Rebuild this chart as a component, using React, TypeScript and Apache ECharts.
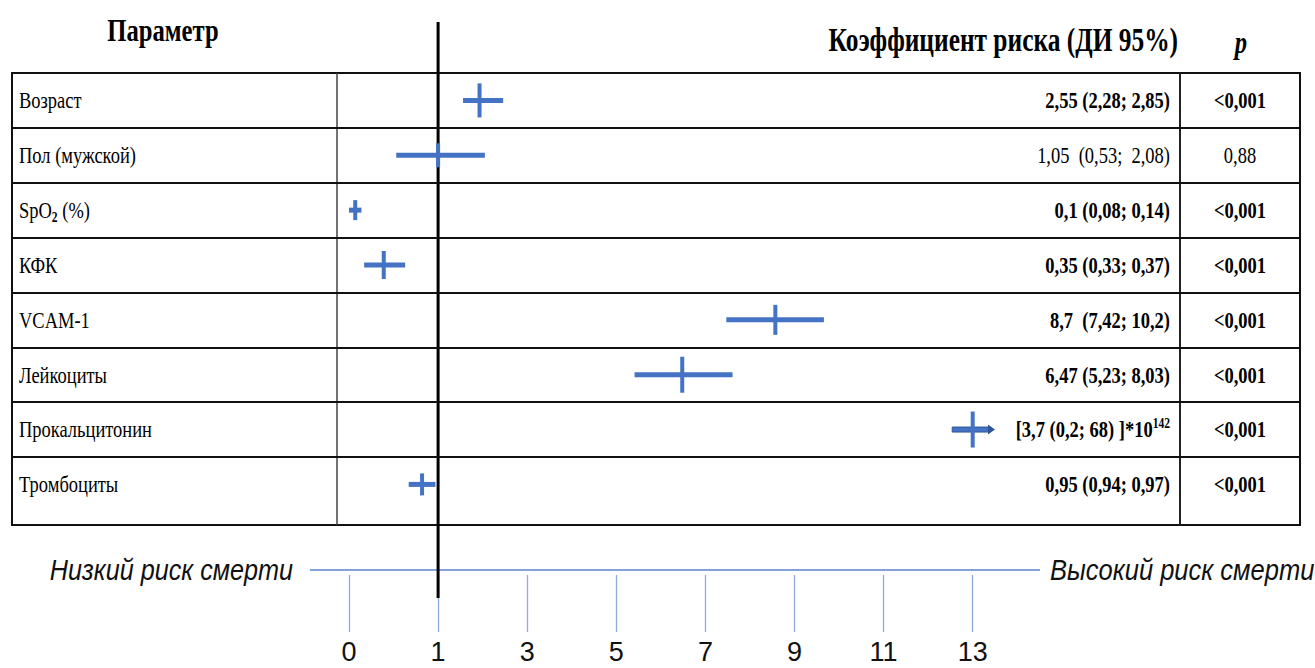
import React, { useEffect, useRef } from "react";
import * as echarts from "echarts";

// ---------------- data ----------------
const parameters = [
  "Возраст",
  "Пол (мужской)",
  "SpO2 (%)",
  "КФК",
  "VCAM-1",
  "Лейкоциты",
  "Прокальцитонин",
  "Тромбоциты",
];
const hazardText = [
  "2,55 (2,28; 2,85)",
  "1,05  (0,53;  2,08)",
  "0,1 (0,08; 0,14)",
  "0,35 (0,33; 0,37)",
  "8,7  (7,42; 10,2)",
  "6,47 (5,23; 8,03)",
  "[3,7 (0,2; 68) ]*10^142",
  "0,95 (0,94; 0,97)",
];
const pValues = ["<0,001", "0,88", "<0,001", "<0,001", "<0,001", "<0,001", "<0,001", "<0,001"];
const significant = [true, false, true, true, true, true, true, true];

// marks as drawn
const markCenter = [1.93, 1.0, 0.07, 0.39, 8.57, 6.48, 13.0, 0.82];
const markLow = [1.56, 0.53, 0.0, 0.17, 7.47, 5.41, 12.54, 0.67];
const markHigh = [2.46, 2.05, 0.14, 0.63, 9.66, 7.61, 13.5, 0.97];
const openEnded = [false, false, false, false, false, false, true, false];

const axisTickValues = [0, 1, 3, 5, 7, 9, 11, 13];
const referenceValue = 1;

const headerParam = "Параметр";
const headerHR = "Коэффициент риска (ДИ 95%)";
const headerP = "p";
const lowRiskLabel = "Низкий риск смерти";
const highRiskLabel = "Высокий риск смерти";

// ---------------- layout / style ----------------
const W = 1315;
const H = 668;
const T_LEFT = 12;
const T_RIGHT = 1300;
const T_TOP = 73;
const T_BOTTOM = 525;
const COL1 = 337;
const COL2 = 1180;
const SLOT0_PX = 349;
const SLOT_PX = 89.1;
const ROW_SPAN = 8.24; // last row is taller than the others
const SERIF = "'Liberation Serif', 'Times New Roman', serif";
const SANS = "'Liberation Sans', Arial, sans-serif";
const NARROW = "'Liberation Sans Narrow', 'Liberation Sans', Arial, sans-serif";
const SX = 0.77; // horizontal compression of the source picture
const BLUE = "#4472C4";
const DARK_BLUE = "#2F5597";
const barHalf = [17, 12, 10, 14, 15, 18, 18, 11];

function hrToSlot(v: number): number {
  const t = axisTickValues;
  for (let k = 0; k < t.length - 1; k++) {
    if (v <= t[k + 1] || k === t.length - 2) {
      return k + (v - t[k]) / (t[k + 1] - t[k]);
    }
  }
  return 0;
}

const X_MIN = -(SLOT0_PX - T_LEFT) / SLOT_PX;
const X_MAX = (T_RIGHT - SLOT0_PX) / SLOT_PX;
const tickSlots = axisTickValues.map((_, i) => i);

const paramRich = (s: string) => "{n|" + s.replace("O2", "O}{sub|2}{n|") + "}";
const hrRich = (s: string) => "{b|" + s.replace(/\^(\d+)/, "}{sup|$1}{b|") + "}";

export default function App() {
  const ref = useRef<HTMLDivElement>(null);

  useEffect(() => {
    if (!ref.current) return;
    const chart = echarts.init(ref.current, undefined, { renderer: "svg" });

    const rowData = parameters.map((_, i) => [i]);
    const markData = parameters.map((_, i) => [
      i,
      hrToSlot(markCenter[i]),
      hrToSlot(markLow[i]),
      hrToSlot(markHigh[i]),
    ]);

    const option: any = {
      animation: false,
      backgroundColor: "#ffffff",
      grid: [
        {
          left: T_LEFT,
          top: T_TOP,
          width: T_RIGHT - T_LEFT,
          height: T_BOTTOM - T_TOP,
          show: true,
          borderColor: "#111",
          borderWidth: 2,
          backgroundColor: "transparent",
        },
        { left: T_LEFT, top: 574, width: T_RIGHT - T_LEFT, height: 1, show: false },
      ],
      xAxis: [
        { gridIndex: 0, type: "value", min: X_MIN, max: X_MAX, show: false },
        {
          gridIndex: 1,
          type: "value",
          min: X_MIN,
          max: X_MAX,
          position: "bottom",
          axisLine: { show: false },
          splitLine: { show: false },
          axisTick: {
            show: true,
            customValues: tickSlots,
            length: 57,
            lineStyle: { color: "#8FAADC", width: 1.3 },
          },
          axisLabel: {
            customValues: tickSlots,
            margin: 63,
            fontSize: 27,
            fontFamily: NARROW,
            color: "#111",
            formatter: (v: number) => String(axisTickValues[Math.round(v)]),
          },
        },
      ],
      yAxis: [
        { gridIndex: 0, type: "value", min: 0, max: ROW_SPAN, inverse: true, show: false },
        { gridIndex: 1, type: "value", show: false },
      ],
      graphic: [
        { type: "line", shape: { x1: COL1, y1: T_TOP, x2: COL1, y2: T_BOTTOM }, style: { stroke: "#444", lineWidth: 1.5 } },
        { type: "line", shape: { x1: COL2, y1: T_TOP, x2: COL2, y2: T_BOTTOM }, style: { stroke: "#222", lineWidth: 2 } },
        {
          type: "text", x: 163, y: 30, scaleX: SX,
          style: { text: headerParam, fontFamily: SERIF, fontSize: 32, fontWeight: "bold", fill: "#000", align: "center", verticalAlign: "middle" },
        },
        {
          type: "text", x: 1178, y: 40, scaleX: SX,
          style: { text: headerHR, fontFamily: SERIF, fontSize: 33, fontWeight: "bold", fill: "#000", align: "right", verticalAlign: "middle" },
        },
        {
          type: "text", x: 1241, y: 42, scaleX: SX,
          style: { text: headerP, fontFamily: SERIF, fontSize: 32, fontWeight: "bold", fontStyle: "italic", fill: "#000", align: "center", verticalAlign: "middle" },
        },
        { type: "line", shape: { x1: 310, y1: 570, x2: 1040, y2: 570 }, style: { stroke: "#5B83CF", lineWidth: 1.3 } },
        {
          type: "text", x: 293, y: 570, scaleX: 0.84,
          style: { text: lowRiskLabel, fontFamily: SANS, fontSize: 30, fontStyle: "italic", fill: "#111", align: "right", verticalAlign: "middle" },
        },
        {
          type: "text", x: 1050, y: 570, scaleX: 0.85,
          style: { text: highRiskLabel, fontFamily: SANS, fontSize: 30, fontStyle: "italic", fill: "#111", align: "left", verticalAlign: "middle" },
        },
      ],
      series: [
        {
          type: "custom",
          name: "table",
          xAxisIndex: 0,
          yAxisIndex: 0,
          clip: false,
          silent: true,
          data: rowData,
          renderItem: (params: any, api: any) => {
            const i = api.value(0);
            const y = api.coord([0, i + 0.5])[1];
            const weight = significant[i] ? "bold" : "normal";
            return {
              type: "group",
              children: [
                {
                  type: "text", x: 19, y, scaleX: SX,
                  style: {
                    text: paramRich(parameters[i]),
                    align: "left",
                    verticalAlign: "middle",
                    rich: {
                      n: { fontFamily: SERIF, fontSize: 24, fill: "#000", lineHeight: 28 },
                      sub: { fontFamily: SERIF, fontSize: 15, fontWeight: "bold", fill: "#000", lineHeight: 18, verticalAlign: "bottom" },
                    },
                  },
                },
                {
                  type: "text", x: 1170, y, scaleX: SX,
                  style: {
                    text: hrRich(hazardText[i]),
                    align: "right",
                    verticalAlign: "middle",
                    rich: {
                      b: { fontFamily: SERIF, fontSize: 24, fontWeight: weight, fill: "#000", lineHeight: 28 },
                      sup: { fontFamily: SERIF, fontSize: 15, fontWeight: weight, fill: "#000", lineHeight: 16, verticalAlign: "top" },
                    },
                  },
                },
                {
                  type: "text", x: 1240, y, scaleX: SX,
                  style: {
                    text: pValues[i],
                    fontFamily: SERIF, fontSize: 24, fontWeight: weight, fill: "#000",
                    align: "center", verticalAlign: "middle",
                  },
                },
              ],
            };
          },
          markLine: {
            silent: true,
            symbol: "none",
            label: { show: false },
            lineStyle: { color: "#111", width: 2, type: "solid" },
            data: [1, 2, 3, 4, 5, 6, 7].map((v) => ({ yAxis: v })),
          },
        },
        {
          type: "custom",
          name: "reference",
          xAxisIndex: 0,
          yAxisIndex: 0,
          clip: false,
          silent: true,
          z: 3,
          data: [[hrToSlot(referenceValue)]],
          renderItem: (params: any, api: any) => {
            const x = api.coord([api.value(0), 0])[0];
            return {
              type: "line",
              shape: { x1: x, y1: 22, x2: x, y2: 598 },
              style: { stroke: "#000", lineWidth: 3 },
            };
          },
        },
        {
          type: "custom",
          name: "marks",
          xAxisIndex: 0,
          yAxisIndex: 0,
          clip: false,
          silent: true,
          z: 4,
          data: markData,
          renderItem: (params: any, api: any) => {
            const i = api.value(0);
            const yv = i + 0.5;
            const c = api.coord([api.value(1), yv]);
            const lo = api.coord([api.value(2), yv]);
            const hi = api.coord([api.value(3), yv]);
            const y = c[1];
            const h = barHalf[i];
            const children: any[] = [];
            if (openEnded[i]) {
              children.push({
                type: "rect",
                shape: { x: lo[0], y: y - 2.5, width: hi[0] - lo[0] - 6, height: 5 },
                style: { fill: BLUE, stroke: DARK_BLUE, lineWidth: 1 },
              });
              children.push({
                type: "polygon",
                shape: { points: [[hi[0], y], [hi[0] - 7, y - 5], [hi[0] - 7, y + 5]] },
                style: { fill: DARK_BLUE },
              });
            } else {
              children.push({
                type: "line",
                shape: { x1: lo[0], y1: y, x2: hi[0], y2: y },
                style: { stroke: BLUE, lineWidth: 5 },
              });
            }
            children.push({
              type: "line",
              shape: { x1: c[0], y1: y - h, x2: c[0], y2: y + h },
              style: { stroke: BLUE, lineWidth: 4 },
            });
            return { type: "group", children };
          },
        },
      ],
    };

    chart.setOption(option);
    return () => chart.dispose();
  }, []);

  return (
    <div
      ref={ref}
      style={{ position: "fixed", left: 0, top: 0, width: W, height: H, background: "#fff" }}
    />
  );
}
